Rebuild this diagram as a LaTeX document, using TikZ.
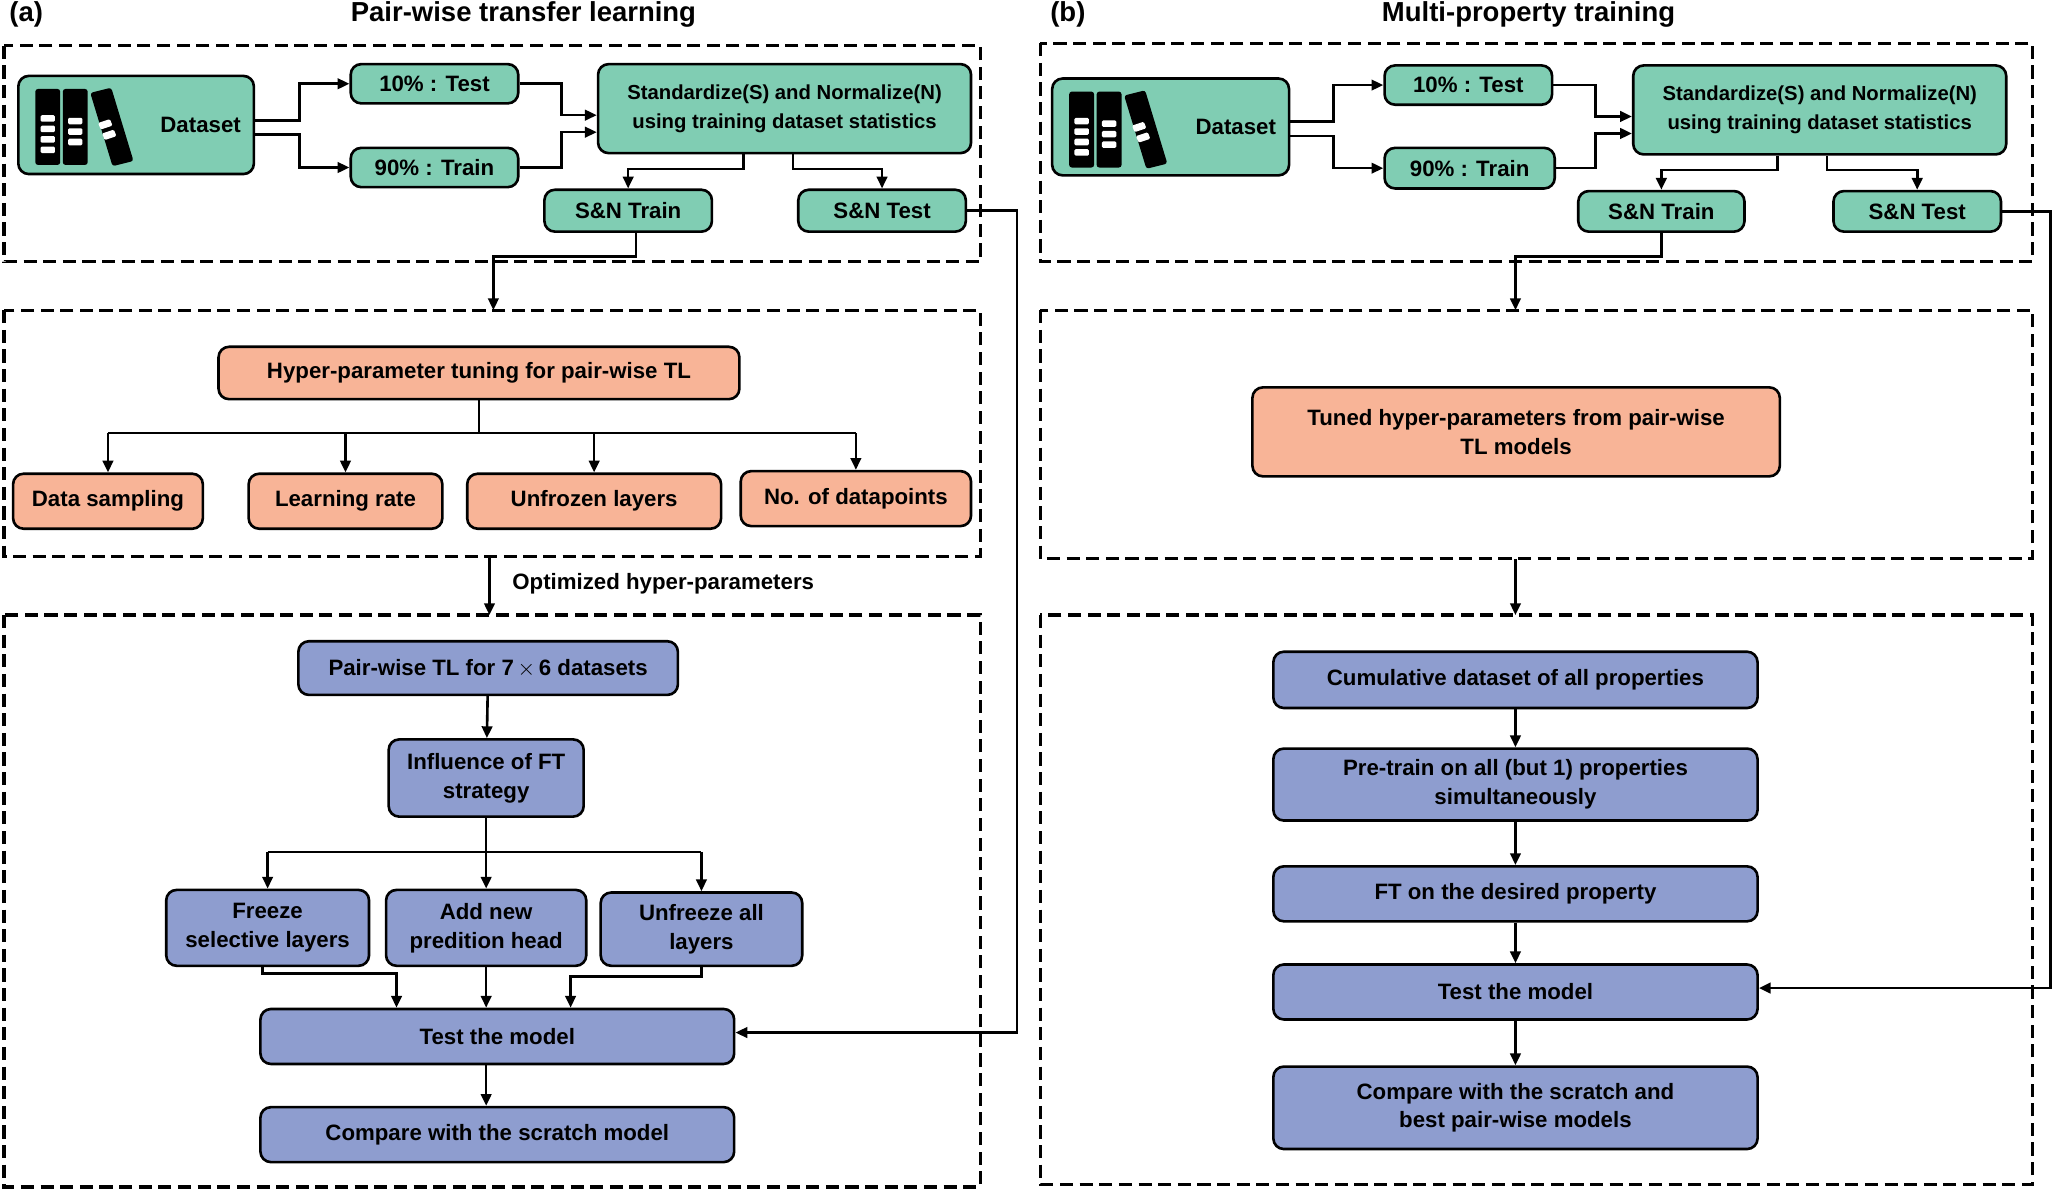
\documentclass[tikz,border=0pt]{standalone}
\usepackage{fontspec}
\setmainfont{Liberation Sans}
\usetikzlibrary{calc,arrows.meta}
\definecolor{gr}{HTML}{80CDB3}
\definecolor{sa}{HTML}{F8B497}
\definecolor{bl}{HTML}{8E9DCF}
\begin{document}
\begin{tikzpicture}[x=1pt,y=-1pt,
 box/.style={draw,line width=2pt,rounded corners=8pt,inner sep=1pt,align=center,font=\fontsize{17}{22}\selectfont\bfseries},
 G/.style={box,fill=gr}, S/.style={box,fill=sa}, B/.style={box,fill=bl},
 sz/.style 2 args={minimum width=#1pt,minimum height=#2pt},
 dbox/.style={draw,line width=2.5pt,dash pattern=on 10pt off 5pt},
 arr/.style={line width=2pt,-{Triangle[length=9pt,width=8pt]}},
 ln/.style={line width=2pt},
 ttl/.style={font=\fontsize{21}{24}\selectfont\bfseries},
 books/.pic={
  \fill[rounded corners=2pt] (0,0) rectangle (19,58);
  \fill[rounded corners=2pt] (21,0) rectangle (40,58);
  \fill[rounded corners=2pt] (42,3) -- (58,-1) -- (75,55) -- (59,59) -- cycle;
  \foreach \y in {20,28,36,44} \fill[white,rounded corners=1pt] (4,\y) rectangle (15,\y+5);
  \foreach \y in {22,30,38} \fill[white,rounded corners=1pt] (25,\y) rectangle (36,\y+5);
  \fill[white,rounded corners=1pt] (48,26)--(57,23)--(59,28)--(50,31)--cycle;
  \fill[white,rounded corners=1pt] (51,34)--(60,31)--(62,36)--(53,39)--cycle;
 }]
\useasboundingbox (0,0) rectangle (1568,910);
\node[ttl] (la) at (20,11) {(a)};
\node[ttl] (ta) at (400,11) {Pair-wise transfer learning};
\node[ttl] (lb) at (816,11) {(b)};
\node[ttl] (tb) at (1168,11) {Multi-property training};
% dashed boxes
\draw[dbox] (3,35) rectangle (749,200);
\draw[dbox] (3,237) rectangle (749,425);
\draw[dbox] (3,470) rectangle (749,907);
\draw[dbox] (795,33) rectangle (1553,200);
\draw[dbox] (795,237) rectangle (1553,427);
\draw[dbox] (795,470) rectangle (1553,905);
% panel a
\node[G,sz={180}{75},text width=160pt,align=right] (ads) at (104,95.5) {Dataset\hspace*{4pt}};
\pic at (27,68) {books};
\node[G,sz={128}{30}] (at10) at (332,64) {10\% : Test};
\node[G,sz={128}{30}] (at90) at (332,128) {90\% : Train};
\node[G,sz={285}{68},font=\fontsize{15.5}{22}\selectfont\bfseries] (astd) at (599.5,83) {Standardize(S) and Normalize(N)\\using training dataset statistics};
\node[G,sz={128}{32}] (asnt) at (480,161) {S\&N Train};
\node[G,sz={128}{32}] (asne) at (674,161) {S\&N Test};
\node[S,sz={398}{40}] (ahyp) at (366,285) {Hyper-parameter tuning for pair-wise TL};
\node[S,sz={145}{42}] (ad1) at (82.5,383) {Data sampling};
\node[S,sz={148}{42}] (ad2) at (264,383) {Learning rate};
\node[S,sz={194}{42}] (ad3) at (454,383) {Unfrozen layers};
\node[S,sz={176}{42}] (ad4) at (654,381) {No. of datapoints};
\node[B,sz={290}{41}] (apw) at (373,510.5) {Pair-wise TL for 7\,$\times$\,6 datasets};
\node[B,sz={149}{59}] (ainf) at (371.5,594.5) {Influence of FT\\strategy};
\node[B,sz={155}{58}] (afr) at (204.5,709) {Freeze\\selective layers};
\node[B,sz={153}{58}] (aad) at (371.5,709) {Add new\\predition head};
\node[B,sz={154}{56}] (auf) at (536,710) {Unfreeze all\\layers};
\node[B,sz={362}{42}] (atm) at (380,792) {Test the model};
\node[B,sz={362}{42}] (acm) at (380,867) {Compare with the scratch model};
\node[font=\fontsize{17}{20}\selectfont\bfseries,anchor=west] (aopt) at (388,446) {Optimized hyper-parameters};
\coordinate (ab2) at (377,237);
\coordinate (ab2b) at (374,425);
\coordinate (ab3) at (374,470);
\draw[arr] ($(ads.east)+(0,-3.5)$) -- ++(34,0) |- (at10);
\draw[arr] ($(ads.east)+(0,7.5)$) -- ++(34,0) |- (at90);
\draw[arr] (at10.east) -- ++(32,0) |- ($(astd.west)+(0,5)$);
\draw[arr] (at90.east) -- ++(32,0) |- ($(astd.west)+(0,18)$);
\draw[arr] ($(astd.south)+(-31.5,0)$) -- ++(0,11) -| (asnt.north);
\draw[arr] ($(astd.south)+(6.5,0)$) -- ++(0,11) -| (asne.north);
\draw[arr] ($(asnt.south)+(6,0)$) -- ++(0,18) -| (ab2);
\draw[arr] (asne.east) -- ++(38,0) |- ($(atm.east)+(0,-3)$);
\draw[ln] (ahyp.south) -- ++(0,25) coordinate (ah);
\draw[ln] (ad1.north |- ah) -- (ad4.north |- ah);
\foreach \n in {ad1,ad2,ad3,ad4} \draw[arr] (\n.north |- ah) -- (\n.north);
\draw[arr] (ab2b) -- (ab3);
\draw[arr] (apw) -- (ainf);
\draw[ln] (ainf.south) -- ++(0,26) coordinate (ai);
\draw[ln] (afr.north |- ai) -- (auf.north |- ai);
\foreach \n in {afr,aad,auf} \draw[arr] (\n.north |- ai) -- (\n.north);
\draw[arr] ($(afr.south)+(-4,0)$) -- ++(0,5) -| ($(atm.north)+(-77,0)$);
\draw[arr] (aad.south) -- (aad.south |- atm.north);
\draw[arr] (auf.south) -- ++(0,7) -| ($(atm.north)+(56,0)$);
\draw[arr] (aad.south |- atm.south) -- (aad.south |- acm.north);
% panel b
\node[G,sz={181}{74},text width=161pt,align=right] (bds) at (894.5,97) {Dataset\hspace*{4pt}};
\pic at (817,70) {books};
\node[G,sz={128}{30}] (bt10) at (1122,65) {10\% : Test};
\node[G,sz={130}{31}] (bt90) at (1123,128.5) {90\% : Train};
\node[G,sz={285}{68},font=\fontsize{15.5}{22}\selectfont\bfseries] (bstd) at (1390.5,84) {Standardize(S) and Normalize(N)\\using training dataset statistics};
\node[G,sz={127}{31}] (bsnt) at (1269.5,161.5) {S\&N Train};
\node[G,sz={128}{31}] (bsne) at (1465,161.5) {S\&N Test};
\node[S,sz={403}{68}] (btu) at (1158.5,330) {Tuned hyper-parameters from pair-wise\\TL models};
\node[B,sz={370}{43}] (bcu) at (1158,519.5) {Cumulative dataset of all properties};
\node[B,sz={370}{55}] (bpr) at (1158,599.5) {Pre-train on all (but 1) properties\\simultaneously};
\node[B,sz={370}{42}] (bft) at (1158,683) {FT on the desired property};
\node[B,sz={370}{42}] (bte) at (1158,758) {Test the model};
\node[B,sz={370}{63}] (bco) at (1158,846.5) {Compare with the scratch and\\best pair-wise models};
\coordinate (bb2) at (1158,237);
\coordinate (bb2b) at (1158,427);
\coordinate (bb3) at (1158,470);
\draw[arr] ($(bds.east)+(0,-4)$) -- ++(33,0) |- (bt10);
\draw[arr] ($(bds.east)+(0,7)$) -- ++(33,0) |- (bt90);
\draw[arr] (bt10.east) -- ++(32,0) |- ($(bstd.west)+(0,5)$);
\draw[arr] (bt90.east) -- ++(30,0) |- ($(bstd.west)+(0,18)$);
\draw[arr] ($(bstd.south)+(-32.5,0)$) -- ++(0,11) -| (bsnt.north);
\draw[arr] ($(bstd.south)+(5.5,0)$) -- ++(0,11) -| (bsne.north);
\draw[arr] (bsnt.south) -- ++(0,18) -| (bb2);
\draw[arr] (bsne.east) -- ++(37,0) |- ($(bte.east)+(0,-3)$);
\draw[arr] (bb2b) -- (bb3);
\draw[arr] (bcu) -- (bpr);
\draw[arr] (bpr) -- (bft);
\draw[arr] (bft) -- (bte);
\draw[arr] (bte) -- (bco);
\end{tikzpicture}
\end{document}
